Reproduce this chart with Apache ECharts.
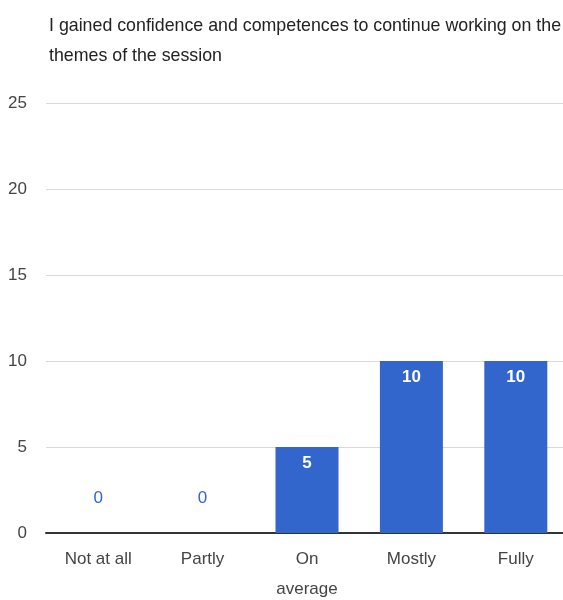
<!DOCTYPE html>
<html>
<head>
<meta charset="utf-8">
<script src="https://cdn.jsdelivr.net/npm/echarts@6/dist/echarts.min.js"></script>
<style>
  html, body { margin: 0; padding: 0; background: #fff; overflow: hidden; }
  #chart { width: 568px; height: 600px; }
</style>
</head>
<body>
<div id="chart"></div>
<script>
// categories and counts
let categories = ['Not at all', 'Partly', 'On\naverage', 'Mostly', 'Fully']
let counts = [0, 0, 5, 10, 10]
let yTicks = [0, 5, 10, 15, 20, 25]

let font = "'Liberation Sans', Arial, sans-serif"
let myChart = echarts.init(document.getElementById('chart'))

// zero bars get a blue label above the baseline
let barData = counts.map((v) => {
    if (v === 0) {
        return {
            value: v,
            label: { position: 'top', distance: 26, color: '#3366cc', fontWeight: 'normal' }
        }
    }
    return v
})

let option = {
    animation: false,
    title: {
        text: 'I gained confidence and competences to continue working on the\nthemes of the session',
        left: 44,
        top: 6,
        textStyle: {
            fontFamily: font,
            fontSize: 17.8,
            fontWeight: 'normal',
            color: '#222',
            lineHeight: 30
        }
    },
    grid: {
        left: 46,
        right: 0,
        top: 103,
        bottom: 67,
        outerBoundsMode: 'none',
        containLabel: false
    },
    xAxis: {
        type: 'category',
        data: categories,
        axisTick: { show: false },
        axisLine: { lineStyle: { color: '#333', width: 2 } },
        axisLabel: {
            fontFamily: font,
            fontSize: 17,
            color: '#444',
            margin: 11,
            lineHeight: 30
        }
    },
    yAxis: {
        type: 'value',
        min: yTicks[0],
        max: yTicks[yTicks.length - 1],
        interval: 5,
        axisLine: { show: false },
        axisTick: { show: false },
        splitLine: { lineStyle: { color: '#d9d9d9', width: 1 } },
        axisLabel: {
            fontFamily: font,
            fontSize: 17,
            color: '#444',
            margin: 19
        }
    },
    series: [
        {
            type: 'bar',
            data: barData,
            barWidth: 63,
            itemStyle: { color: '#3366cc' },
            label: {
                show: true,
                position: 'insideTop',
                distance: 8,
                color: '#fff',
                fontFamily: font,
                fontSize: 17,
                fontWeight: 'bold'
            }
        }
    ]
}
myChart.setOption(option)
</script>
</body>
</html>
